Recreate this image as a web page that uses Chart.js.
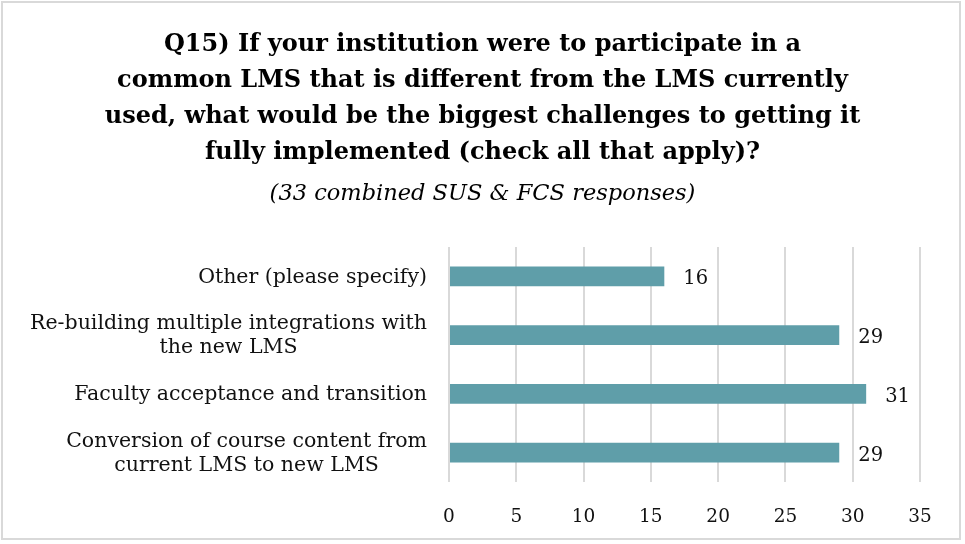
<!DOCTYPE html>
<html>
<head>
<meta charset="utf-8">
<script src="https://cdn.jsdelivr.net/npm/chart.js@4"></script>
<style>
  html, body { margin: 0; padding: 0; background: #fff; }
  #wrap { position: relative; width: 965px; height: 544px; }
  #frame { position: absolute; left: 1px; top: 1px; width: 960px; height: 539px; box-sizing: border-box; border: 2px solid #d9d9d9; pointer-events: none; }
  canvas { position: absolute; left: 0; top: 0; }
</style>
</head>
<body>
<div id="wrap">
  <canvas id="c" width="965" height="544"></canvas>
  <div id="frame"></div>
</div>
<script>
const titleLines = [
  "Q15) If your institution were to participate in a",
  "common LMS that is different from the LMS currently",
  "used, what would be the biggest challenges to getting it",
  "fully implemented (check all that apply)?"
];
const subtitleText = "(33 combined SUS & FCS responses)";
const categories = [
  ["Other (please specify)"],
  ["Re-building multiple integrations with", "the new LMS"],
  ["Faculty acceptance and transition"],
  ["Conversion of course content from", "current LMS to new LMS"]
];
const values = [16, 29, 31, 29];
const xTicks = [0, 5, 10, 15, 20, 25, 30, 35];

const SERIF = "'DejaVu Serif', 'Liberation Serif', serif";
const TEXT = "#111111";

const customLabels = {
  id: 'customLabels',
  afterDatasetsDraw(chart) {
    const ctx = chart.ctx;
    const yScale = chart.scales.y;
    const area = chart.chartArea;
    ctx.save();
    ctx.fillStyle = TEXT;
    ctx.font = "20.5px " + SERIF;
    ctx.textBaseline = 'middle';
    ctx.textAlign = 'center';
    const lh = 24;
    categories.forEach((lines, i) => {
      const yc = yScale.getPixelForValue(i);
      let maxW = 0;
      lines.forEach(l => { maxW = Math.max(maxW, ctx.measureText(l).width); });
      const right = area.left - 22;
      const cx = right - maxW / 2;
      const y0 = yc - (lines.length - 1) * lh / 2 + 1;
      lines.forEach((l, k) => ctx.fillText(l, cx, y0 + k * lh));
    });
    // data labels
    const meta = chart.getDatasetMeta(0);
    ctx.font = "19.5px " + SERIF;
    ctx.textAlign = 'left';
    meta.data.forEach((bar, i) => {
      ctx.fillText(String(values[i]), bar.x + 19, bar.y + 3);
    });
    ctx.restore();
  }
};

new Chart(document.getElementById('c'), {
  type: 'bar',
  data: {
    labels: categories.map(c => c.join(' ')),
    datasets: [{
      data: values,
      backgroundColor: '#5f9ea9',
      borderWidth: 0,
      categoryPercentage: 1.0,
      barPercentage: 0.34
    }]
  },
  options: {
    indexAxis: 'y',
    responsive: false,
    animation: false,
    layout: { padding: { left: 45, right: 45, top: 0, bottom: 0 } },
    plugins: {
      legend: { display: false },
      tooltip: { enabled: false },
      title: {
        display: true,
        text: titleLines,
        color: '#000',
        font: { family: SERIF, size: 24, weight: 'bold', lineHeight: 1.5 },
        padding: { top: 27, bottom: 0 }
      },
      subtitle: {
        display: true,
        text: subtitleText,
        color: '#000',
        font: { family: SERIF, size: 22.5, style: 'italic', lineHeight: 1.333 },
        padding: { top: 8, bottom: 38 }
      }
    },
    scales: {
      x: {
        min: 0, max: 35,
        afterBuildTicks(scale) { scale.ticks = xTicks.map(v => ({ value: v })); },
        grid: { color: '#d9d9d9', lineWidth: 2, drawTicks: false },
        border: { display: false },
        ticks: { color: TEXT, font: { family: SERIF, size: 18.5 }, padding: 24 },
        afterFit(scale) { scale.height = 62; }
      },
      y: {
        grid: { display: false, drawTicks: false },
        border: { display: false },
        ticks: { display: false },
        afterFit(scale) { scale.width = 404; }
      }
    }
  },
  plugins: [customLabels]
});
</script>
</body>
</html>
